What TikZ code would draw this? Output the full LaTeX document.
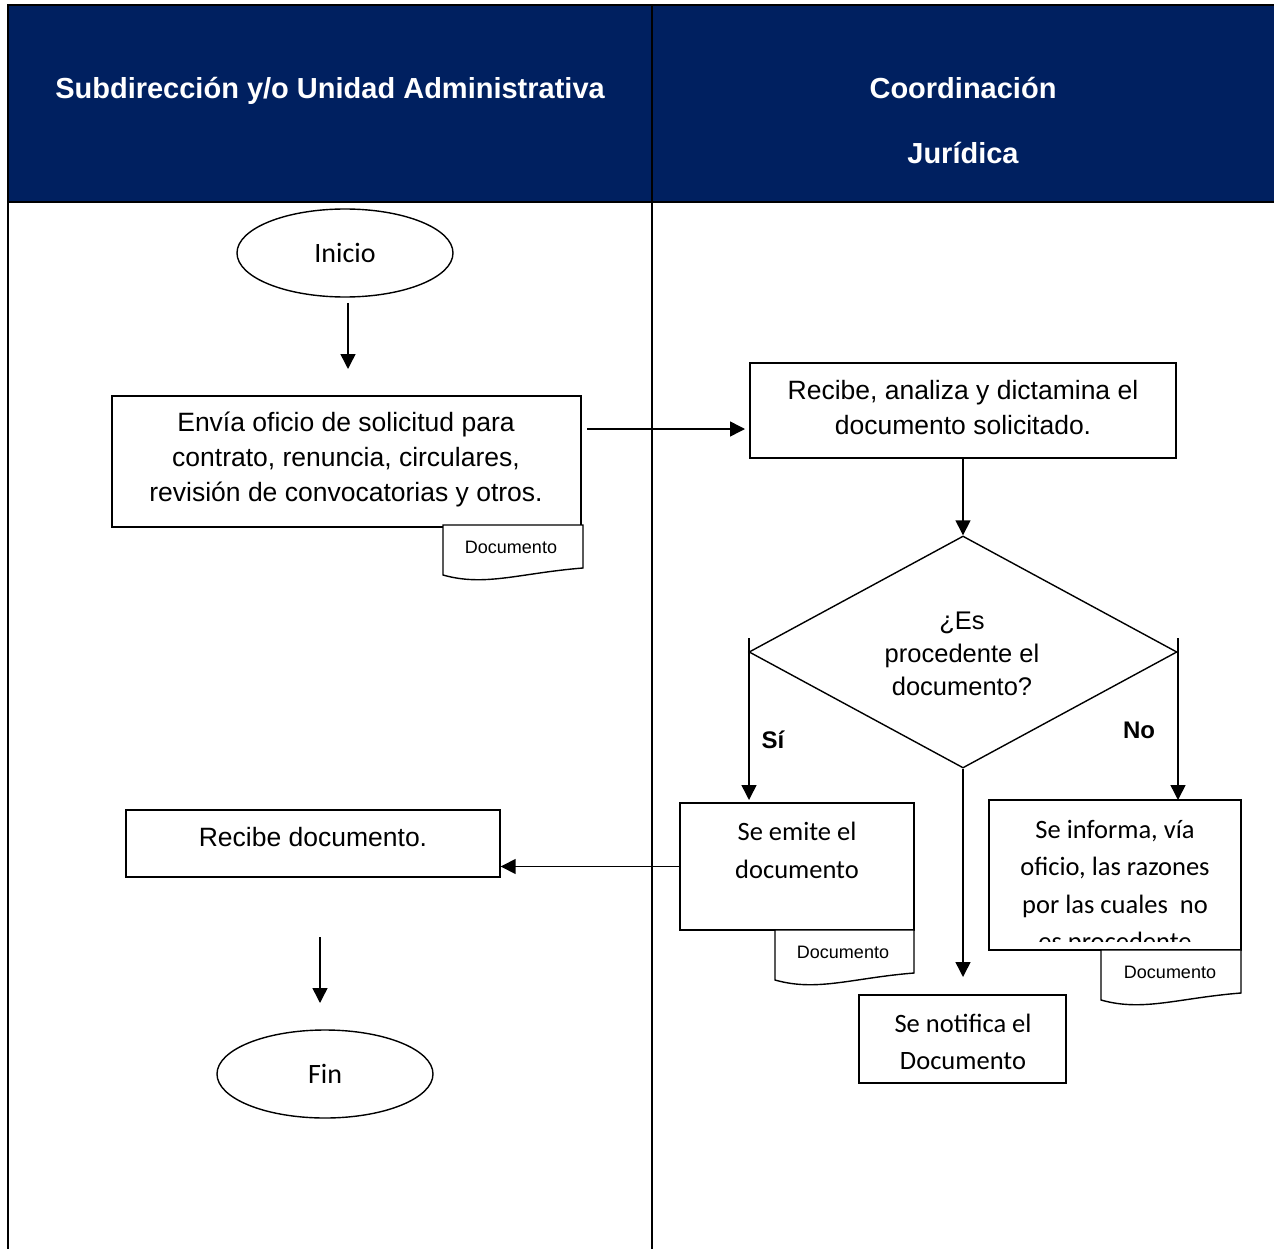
\documentclass[tikz,border=0pt]{standalone}
\usepackage{fontspec}
\setmainfont{Liberation Sans}
\newfontfamily\carlito{Carlito}
\usetikzlibrary{arrows.meta,shapes.geometric}
\definecolor{navy}{RGB}{0,32,96}

\begin{document}
\begin{tikzpicture}[x=1pt,y=-1pt,
  tbl/.style={line width=2pt},
  shapeline/.style={draw,line width=1.4pt},
  flow/.style={line width=1.5pt,-{Triangle[width=15pt,length=15pt]}},
  boxnode/.style={shapeline,rectangle,inner sep=0pt,text width=0pt},
  ovalnode/.style={shapeline,ellipse,inner sep=0pt,minimum width=216pt,minimum height=88pt,
    font=\carlito\fontsize{28}{34}\selectfont},
  headtxt/.style={text=white,font=\bfseries\fontsize{29}{35}\selectfont,inner sep=0pt},
  arialtxt/.style={align=center,inner sep=0pt,font=\fontsize{26.5}{35}\selectfont},
  calibtxt/.style={align=center,inner sep=0pt,font=\carlito\fontsize{26.5}{37.3}\selectfont},
  tagtxt/.style={inner sep=0pt,font=\fontsize{18}{22}\selectfont},
  tagline/.style={draw,line width=1.4pt,fill=white},
  branch/.style={inner sep=0pt,font=\bfseries\fontsize{24}{28}\selectfont}]
\useasboundingbox (0,0) rectangle (1274,1249);

% swimlane header and lane borders
\fill[navy] (8,5) rectangle (1274,202);
\draw[tbl] (1274,5) -- (8,5) -- (8,1249);
\draw[tbl] (8,202) -- (1274,202);
\draw[tbl] (652,5) -- (652,1249);
\node[headtxt,anchor=base] (lane1) at (330,99) {Subdirección y/o Unidad Administrativa};
\node[headtxt,anchor=base] (lane2a) at (963,99) {Coordinación};
\node[headtxt,anchor=base] (lane2b) at (963,164) {Jurídica};

% left lane
\node[ovalnode] (inicio) at (345,253) {Inicio};
\node[boxnode,minimum width=469pt,minimum height=131pt] (envia) at (346.5,461.5) {};
\node[arialtxt] (enviaTxt) at (346,459.5) {Envía oficio de solicitud para\\contrato, renuncia, circulares,\\revisión de convocatorias y otros.};
\draw[tagline] (443,525) -- (443,575) .. controls (485,587) and (520,573) .. (583,568) -- (583,525) -- cycle;
\node[tagtxt] (enviaDoc) at (511,547) {Documento};

\node[boxnode,minimum width=374pt,minimum height=67pt] (recdoc) at (313,843.5) {};
\node[arialtxt] (recdocTxt) at (313,837) {Recibe documento.};
\node[ovalnode] (fin) at (325,1074) {Fin};

% right lane
\node[boxnode,minimum width=426pt,minimum height=95pt] (recibe) at (963,410.5) {};
\node[arialtxt] (recibeTxt) at (963,408) {Recibe, analiza y dictamina el\\documento solicitado.};

\node[shapeline,diamond,inner sep=0pt,aspect=1.845,minimum width=428pt,minimum height=232pt] (dia) at (963,652) {};
\node[arialtxt,font=\fontsize{25.5}{33}\selectfont] (diaTxt) at (962,653.5) {¿Es\\procedente el\\documento?};
\node[branch] (si) at (773,740) {Sí};
\node[branch] (no) at (1139,730) {No};

\node[boxnode,minimum width=234pt,minimum height=127pt] (emite) at (797,866.5) {};
\node[calibtxt] (emiteTxt) at (797,850.5) {Se emite el\\documento};
\draw[tagline] (775,930) -- (775,980) .. controls (817,992) and (852,978) .. (914,973) -- (914,930) -- cycle;
\node[tagtxt] (emiteDoc) at (843,952) {Documento};

\node[boxnode,minimum width=252pt,minimum height=150pt] (informa) at (1115,875) {};
\begin{scope}
  \clip (989,800) rectangle (1241,941);
  \node[calibtxt] (informaTxt) at (1115,887.5) {Se informa, vía\\oficio, las razones\\por las cuales\ \ no\\es procedente};
\end{scope}
\draw[tagline] (1101,950) -- (1101,1000) .. controls (1143,1012) and (1178,998) .. (1241,993) -- (1241,950) -- cycle;
\node[tagtxt] (informaDoc) at (1170,972) {Documento};

\node[boxnode,minimum width=207pt,minimum height=88pt] (notifica) at (962.5,1039) {};
\node[calibtxt] (notificaTxt) at (963,1042) {Se notifica el\\Documento};

% connector ends
\coordinate (c1a) at (348,303);
\coordinate (c1b) at (348,369);
\coordinate (c2a) at (587,429);
\coordinate (c2b) at (745,429);
\coordinate (siTop) at (749,638);
\coordinate (siEnd) at (749,800);
\coordinate (noTop) at (1178,638);
\coordinate (noEnd) at (1178,800);
\coordinate (midEnd) at (963,977);
\coordinate (c8a) at (320,937);
\coordinate (c8b) at (320,1003);

% connectors
\draw[flow] (c1a) -- (c1b);
\draw[flow] (c2a) -- (c2b);
\draw[flow] (recibe.south) -- (dia.north);
\draw[flow] (siTop) -- (siEnd);
\draw[flow] (noTop) -- (noEnd);
\draw[flow] (dia.south) -- (midEnd);
\draw[flow] (emite.west) -- (emite.west -| recdoc.east);
\draw[flow] (c8a) -- (c8b);
\end{tikzpicture}
\end{document}
